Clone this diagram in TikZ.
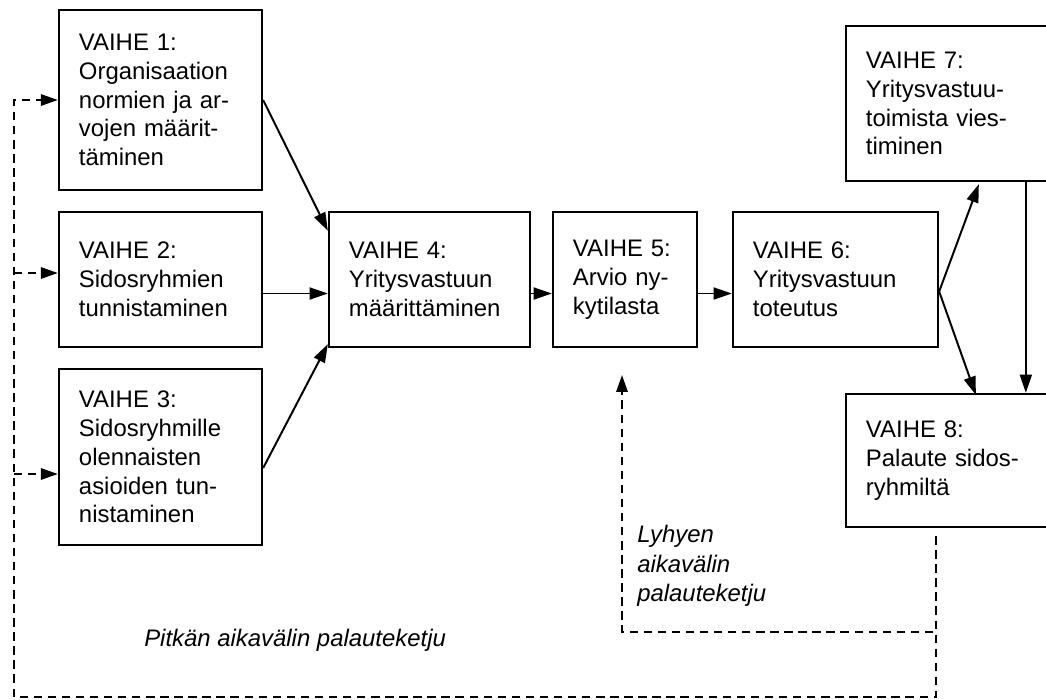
\documentclass[tikz,border=0pt]{standalone}
\usepackage{fontspec}
\setmainfont{Liberation Sans}
\usetikzlibrary{arrows.meta,calc}

\begin{document}
\begin{tikzpicture}[x=0.025cm, y=-0.025cm]

\tikzstyle vaihe=[draw, line width=1.6pt, inner xsep=0.5cm, align=left, font=\fontsize{17}{20.5}\selectfont]
\tikzstyle nuoli=[-{Triangle[length=13pt,width=8.5pt]}, line width=1.4pt]
\tikzstyle palaute=[-{Triangle[length=12pt,width=8pt]}, line width=1.5pt, dash pattern=on 6pt off 4pt]
\tikzstyle selite=[font=\fontsize{17}{21}\selectfont\itshape, align=left, inner sep=0pt]

\useasboundingbox (0,0) rectangle (1046,699);

\node (v1) [vaihe, minimum width=5.075cm, minimum height=4.5cm, text width=4.075cm] at (160.5,100) {VAIHE 1:\\Organisaation\\normien ja ar-\\vojen määrit-\\täminen};
\node (v2) [vaihe, minimum width=5.075cm, minimum height=3.375cm, text width=4.075cm] at (160.5,279.5) {VAIHE 2:\\Sidosryhmien\\tunnistaminen};
\node (v3) [vaihe, minimum width=5.075cm, minimum height=4.4cm, text width=4.075cm] at (160.5,457) {VAIHE 3:\\Sidosryhmille\\olennaisten\\asioiden tun-\\nistaminen};
\node (v4) [vaihe, minimum width=5.025cm, minimum height=3.375cm, text width=4.025cm] at (429.5,279.5) {VAIHE 4:\\Yritysvastuun\\määrittäminen};
\node (v5) [vaihe, minimum width=3.6cm, minimum height=3.375cm, text width=2.6cm] at (625,279.5) {VAIHE 5:\\Arvio ny-\\kytilasta};
\node (v6) [vaihe, minimum width=5.125cm, minimum height=3.375cm, text width=4.125cm] at (835.5,279.5) {VAIHE 6:\\Yritysvastuun\\toteutus};
\node (v7) [vaihe, minimum width=5.5cm, minimum height=3.875cm, text width=4.5cm] at (956,103.5) {VAIHE 7:\\Yritysvastuu-\\toimista vies-\\timinen};
\node (v8) [vaihe, minimum width=5.5cm, minimum height=3.325cm, text width=4.5cm] at (956,460.5) {VAIHE 8:\\Palaute sidos-\\ryhmiltä};

\draw [nuoli] (v1.east) -- ($(v4.north west)+(0,20)$);
\draw [nuoli] ($(v2.east)+(0,14)$) -- ($(v4.west)+(0,14)$);
\draw [nuoli] ($(v3.east)+(0,11)$) -- ($(v4.south west)+(0,-4)$);
\draw [nuoli] ($(v4.east)+(0,14)$) -- ($(v5.west)+(0,14)$);
\draw [nuoli] ($(v5.east)+(0,14)$) -- ($(v6.west)+(0,14)$);
\draw [nuoli] ($(v6.east)+(0,12)$) -- ($(v7.south west)+(134,2)$);
\draw [nuoli] ($(v6.east)+(0,12)$) -- ($(v8.north west)+(131,2)$);
\draw [nuoli] ($(v7.south west)+(181,0)$) -- ($(v8.north west)+(181,0)$);

% palauteketjut
\coordinate (k) at ($(v8.south west)+(91,8)$);
\coordinate (kulma) at (622,632);
\coordinate (lyhyt) at (622,375);
\coordinate (ala) at (14,697);
\coordinate (yla) at (14,100);
\coordinate (h2) at (14,273);
\coordinate (h3) at (14,474);

\draw [palaute] (k) |- (kulma) -- (lyhyt);
\draw [palaute] (k) |- (ala) -- (yla) -- (v1.west);
\draw [palaute] (h2) -- (h2 -| v2.west);
\draw [palaute] (h3) -- (h3 -| v3.west);

\node (pitka) [selite, anchor=west] at (144,640) {Pitkän aikavälin palauteketju};
\node (lyhytsel) [selite, anchor=north west] at (637,525) {Lyhyen\\aikavälin\\palauteketju};

\end{tikzpicture}
\end{document}
